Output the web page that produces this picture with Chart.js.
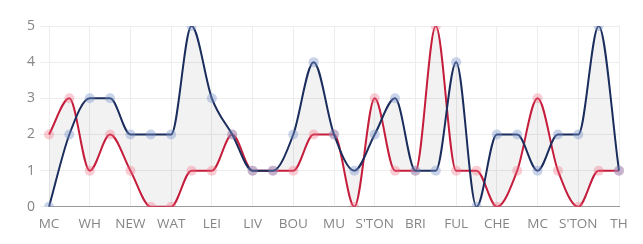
<!DOCTYPE html>
<html>
<head>
<meta charset="utf-8">
<script src="https://cdn.jsdelivr.net/npm/chart.js@4"></script>
<style>
  html, body { margin: 0; padding: 0; background: #fff; }
  #wrap { width: 643px; height: 244px; }
</style>
</head>
<body>
<div id="wrap"><canvas id="chart"></canvas></div>
<script>
/* data */
const labels = [
  'MC', '', 'WH', '', 'NEW', '', 'WAT', '', 'LEI', '', 'LIV', '', 'BOU', '', 'MU',
  '', "S'TON", '', 'BRI', '', 'FUL', '', 'CHE', '', 'MC', '', "S'TON", '', 'TH'
];
const blueSeries = [0, 2, 3, 3, 2, 2, 2, 5, 3, 2, 1, 1, 2, 4, 2, 1, 2, 3, 1, 1, 4, 0, 2, 2, 1, 2, 2, 5, 1];
const redSeries  = [2, 3, 1, 2, 1, 0, 0, 1, 1, 2, 1, 1, 1, 2, 2, 0, 3, 1, 1, 5, 1, 1, 0, 1, 3, 1, 0, 1, 1];
const yTicks = [0, 1, 2, 3, 4, 5];

const FONT = "'Open Sans', sans-serif";
const TEXT = '#858585';
const GRID = '#ededed';

new Chart(document.getElementById('chart'), {
  type: 'line',
  data: {
    labels: labels,
    datasets: [
      {
        data: blueSeries,
        borderColor: '#1b2d5c',
        borderWidth: 2,
        pointRadius: 5,
        pointBorderWidth: 0,
        pointBackgroundColor: 'rgba(120,145,200,0.4)',
        cubicInterpolationMode: 'monotone',
        fill: false,
      },
      {
        data: redSeries,
        borderColor: '#c51d3c',
        borderWidth: 2,
        pointRadius: 5,
        pointBorderWidth: 0,
        pointBackgroundColor: 'rgba(240,110,130,0.35)',
        cubicInterpolationMode: 'monotone',
        fill: { target: '-1' },
        backgroundColor: 'rgba(0,0,0,0.05)',
      },
    ],
  },
  options: {
    responsive: true,
    maintainAspectRatio: false,
    animation: false,
    layout: { padding: { left: 22, right: 24, top: 26, bottom: 3 } },
    plugins: {
      legend: { display: false },
      tooltip: { enabled: false },
      filler: { propagate: false },
    },
    scales: {
      x: {
        grid: {
          color: ctx => (ctx.index % 2 === 0 ? GRID : 'rgba(0,0,0,0)'),
          drawTicks: false,
        },
        border: { color: '#9a9a9a' },
        ticks: {
          autoSkip: false,
          maxRotation: 0,
          padding: 9,
          color: TEXT,
          font: { family: FONT, size: 13.5 },
          callback: (v, i) => labels[i],
        },
      },
      y: {
        min: 0,
        max: 5,
        grid: { color: GRID, tickLength: 9 },
        border: { display: false },
        afterBuildTicks: axis => { axis.ticks = yTicks.map(v => ({ value: v })); },
        ticks: {
          padding: 5,
          color: TEXT,
          font: { family: FONT, size: 14 },
        },
      },
    },
  },
});
</script>
</body>
</html>
